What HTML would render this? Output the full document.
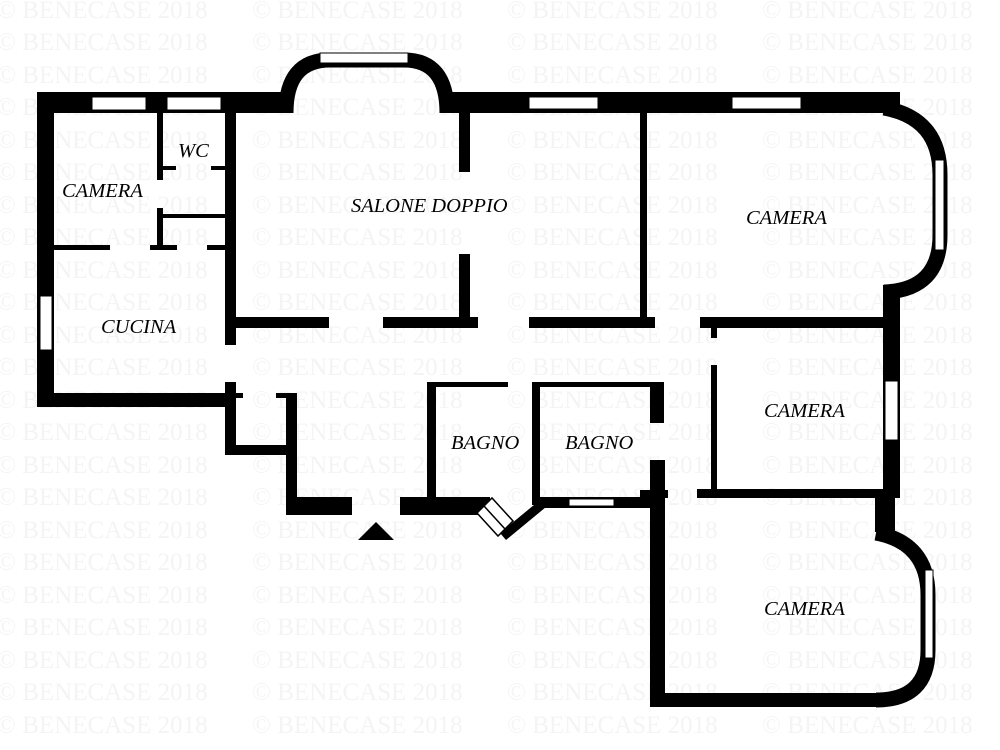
<!DOCTYPE html>
<html><head><meta charset="utf-8"><style>
html,body{margin:0;padding:0;background:#fff;}
svg{display:block;}
.wm{font-family:"Liberation Serif",serif;font-size:25px;fill:#f4f4f4;}
.lb{font-family:"Liberation Serif",serif;font-style:italic;font-size:20.5px;fill:#000;}
</style></head><body>
<svg width="1000" height="750" viewBox="0 0 1000 750" xmlns="http://www.w3.org/2000/svg">
<g class="wm">
<text x="-3" y="18">© BENECASE 2018</text><text x="252" y="18">© BENECASE 2018</text><text x="507" y="18">© BENECASE 2018</text><text x="762" y="18">© BENECASE 2018</text>
<text x="-3" y="50">© BENECASE 2018</text><text x="252" y="50">© BENECASE 2018</text><text x="507" y="50">© BENECASE 2018</text><text x="762" y="50">© BENECASE 2018</text>
<text x="-3" y="83">© BENECASE 2018</text><text x="252" y="83">© BENECASE 2018</text><text x="507" y="83">© BENECASE 2018</text><text x="762" y="83">© BENECASE 2018</text>
<text x="-3" y="115">© BENECASE 2018</text><text x="252" y="115">© BENECASE 2018</text><text x="507" y="115">© BENECASE 2018</text><text x="762" y="115">© BENECASE 2018</text>
<text x="-3" y="148">© BENECASE 2018</text><text x="252" y="148">© BENECASE 2018</text><text x="507" y="148">© BENECASE 2018</text><text x="762" y="148">© BENECASE 2018</text>
<text x="-3" y="180">© BENECASE 2018</text><text x="252" y="180">© BENECASE 2018</text><text x="507" y="180">© BENECASE 2018</text><text x="762" y="180">© BENECASE 2018</text>
<text x="-3" y="213">© BENECASE 2018</text><text x="252" y="213">© BENECASE 2018</text><text x="507" y="213">© BENECASE 2018</text><text x="762" y="213">© BENECASE 2018</text>
<text x="-3" y="245">© BENECASE 2018</text><text x="252" y="245">© BENECASE 2018</text><text x="507" y="245">© BENECASE 2018</text><text x="762" y="245">© BENECASE 2018</text>
<text x="-3" y="278">© BENECASE 2018</text><text x="252" y="278">© BENECASE 2018</text><text x="507" y="278">© BENECASE 2018</text><text x="762" y="278">© BENECASE 2018</text>
<text x="-3" y="310">© BENECASE 2018</text><text x="252" y="310">© BENECASE 2018</text><text x="507" y="310">© BENECASE 2018</text><text x="762" y="310">© BENECASE 2018</text>
<text x="-3" y="343">© BENECASE 2018</text><text x="252" y="343">© BENECASE 2018</text><text x="507" y="343">© BENECASE 2018</text><text x="762" y="343">© BENECASE 2018</text>
<text x="-3" y="375">© BENECASE 2018</text><text x="252" y="375">© BENECASE 2018</text><text x="507" y="375">© BENECASE 2018</text><text x="762" y="375">© BENECASE 2018</text>
<text x="-3" y="408">© BENECASE 2018</text><text x="252" y="408">© BENECASE 2018</text><text x="507" y="408">© BENECASE 2018</text><text x="762" y="408">© BENECASE 2018</text>
<text x="-3" y="440">© BENECASE 2018</text><text x="252" y="440">© BENECASE 2018</text><text x="507" y="440">© BENECASE 2018</text><text x="762" y="440">© BENECASE 2018</text>
<text x="-3" y="473">© BENECASE 2018</text><text x="252" y="473">© BENECASE 2018</text><text x="507" y="473">© BENECASE 2018</text><text x="762" y="473">© BENECASE 2018</text>
<text x="-3" y="505">© BENECASE 2018</text><text x="252" y="505">© BENECASE 2018</text><text x="507" y="505">© BENECASE 2018</text><text x="762" y="505">© BENECASE 2018</text>
<text x="-3" y="538">© BENECASE 2018</text><text x="252" y="538">© BENECASE 2018</text><text x="507" y="538">© BENECASE 2018</text><text x="762" y="538">© BENECASE 2018</text>
<text x="-3" y="570">© BENECASE 2018</text><text x="252" y="570">© BENECASE 2018</text><text x="507" y="570">© BENECASE 2018</text><text x="762" y="570">© BENECASE 2018</text>
<text x="-3" y="603">© BENECASE 2018</text><text x="252" y="603">© BENECASE 2018</text><text x="507" y="603">© BENECASE 2018</text><text x="762" y="603">© BENECASE 2018</text>
<text x="-3" y="635">© BENECASE 2018</text><text x="252" y="635">© BENECASE 2018</text><text x="507" y="635">© BENECASE 2018</text><text x="762" y="635">© BENECASE 2018</text>
<text x="-3" y="668">© BENECASE 2018</text><text x="252" y="668">© BENECASE 2018</text><text x="507" y="668">© BENECASE 2018</text><text x="762" y="668">© BENECASE 2018</text>
<text x="-3" y="700">© BENECASE 2018</text><text x="252" y="700">© BENECASE 2018</text><text x="507" y="700">© BENECASE 2018</text><text x="762" y="700">© BENECASE 2018</text>
<text x="-3" y="733">© BENECASE 2018</text><text x="252" y="733">© BENECASE 2018</text><text x="507" y="733">© BENECASE 2018</text><text x="762" y="733">© BENECASE 2018</text>
</g>
<g fill="#000">
<rect x="37" y="92" width="250" height="21"/>
<rect x="446" y="92" width="454" height="21"/>
<rect x="37" y="92" width="17" height="315"/>
<rect x="37" y="393" width="188" height="14"/>
<rect x="225" y="113" width="11" height="232"/>
<rect x="225" y="382" width="11" height="73"/>
<rect x="225" y="445" width="70" height="10"/>
<rect x="225" y="393" width="18" height="5"/>
<rect x="276" y="393" width="21" height="5"/>
<rect x="286" y="393" width="11" height="122"/>
<rect x="286" y="497" width="66" height="18"/>
<rect x="400" y="497" width="90" height="18"/>
<rect x="157" y="113" width="6" height="67"/>
<rect x="157" y="166" width="19" height="4"/>
<rect x="211" y="166" width="14" height="4"/>
<rect x="157" y="208" width="6" height="42"/>
<rect x="160" y="214" width="65" height="4"/>
<rect x="54" y="245" width="56" height="5"/>
<rect x="150" y="245" width="27" height="5"/>
<rect x="207" y="245" width="18" height="5"/>
<rect x="459" y="113" width="11" height="59"/>
<rect x="459" y="254" width="11" height="71"/>
<rect x="236" y="317" width="93" height="11"/>
<rect x="383" y="317" width="95" height="11"/>
<rect x="529" y="317" width="126" height="11"/>
<rect x="640" y="113" width="7" height="212"/>
<rect x="700" y="317" width="190" height="11"/>
<rect x="711" y="327" width="6" height="11"/>
<rect x="711" y="365" width="6" height="130"/>
<rect x="697" y="489" width="203" height="9"/>
<rect x="883" y="285" width="17" height="213"/>
<rect x="875" y="495" width="20" height="37"/>
<rect x="427" y="382" width="81" height="5"/>
<rect x="427" y="382" width="9" height="120"/>
<rect x="532" y="382" width="132" height="5"/>
<rect x="532" y="382" width="8" height="123"/>
<rect x="650" y="382" width="14" height="41"/>
<rect x="650" y="460" width="15" height="247"/>
<rect x="640" y="490" width="28" height="8"/>
<rect x="536" y="497" width="114" height="11"/>
<rect x="650" y="693" width="232" height="14"/>
<path d="M540 500 L546 507 L506 540 L500 533 Z"/>
<path d="M358 540 L376 522 L394 540 Z"/>
</g>
<g fill="none" stroke="#000" stroke-width="15">
<path d="M286 113 Q286 60 330 60 L404 60 Q447 60 447 113"/>
<path d="M884 108 Q940 118 940 175 L940 235 Q940 290 884 292"/>
<path d="M876 533 Q928 543 928 595 L928 650 Q928 700 876 700"/>
</g>
<g fill="#fff" stroke="#000" stroke-width="1">
<rect x="92" y="97" width="54" height="13"/>
<rect x="167" y="97" width="54" height="13"/>
<rect x="320" y="53" width="88" height="10"/>
<rect x="529" y="97" width="69" height="12"/>
<rect x="732" y="97" width="69" height="12"/>
<rect x="40" y="296" width="12" height="54"/>
<rect x="935" y="160" width="9" height="90"/>
<rect x="885" y="381" width="13" height="59"/>
<rect x="925" y="570" width="8" height="88"/>
<rect x="569" y="499" width="45" height="7"/>
</g>
<g fill="#fff" stroke="#000" stroke-width="1.5">
<path d="M477 513 L492 498 L513 521 L498 536 Z"/>
<path d="M484 506 L505 529"/>
</g>
<g class="lb">
<text x="62" y="197">CAMERA</text>
<text x="178" y="157">WC</text>
<text x="351" y="212">SALONE DOPPIO</text>
<text x="746" y="224">CAMERA</text>
<text x="101" y="333">CUCINA</text>
<text x="764" y="417">CAMERA</text>
<text x="451" y="449">BAGNO</text>
<text x="565" y="449">BAGNO</text>
<text x="764" y="615">CAMERA</text>
</g>
</svg>
</body></html>
